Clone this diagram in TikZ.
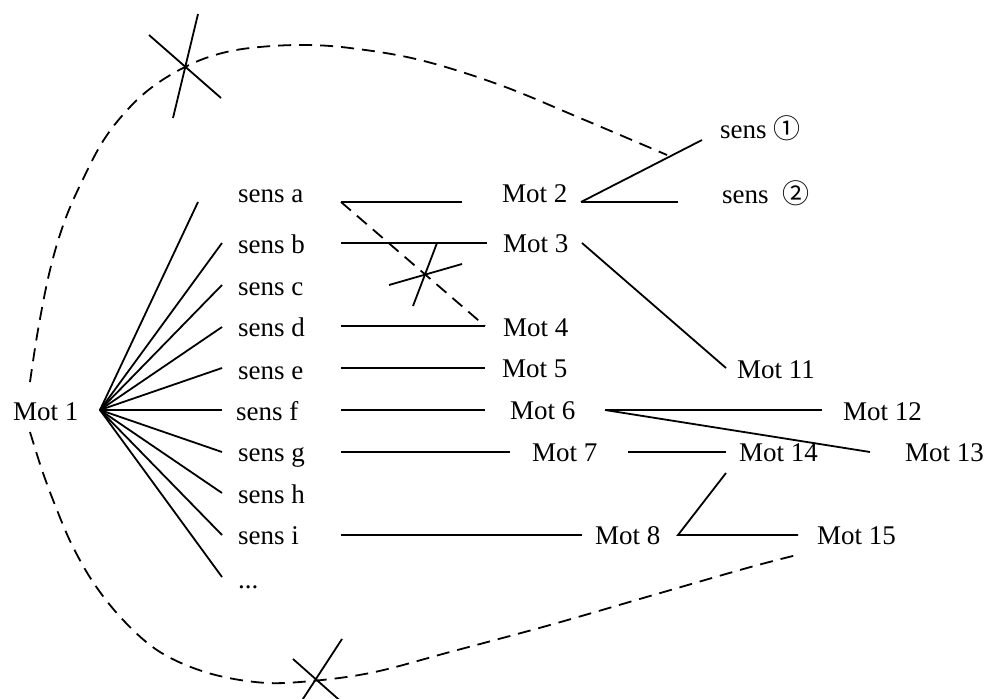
\documentclass[tikz,border=0pt]{standalone}
\usepackage{fontspec}
\setmainfont{Liberation Serif}
\newfontfamily\circfont{Noto Sans CJK SC}
\begin{document}
\begin{tikzpicture}[x=1pt,y=-1pt,
  lbl/.style={anchor=base west,inner sep=0pt,font=\fontsize{27}{30}\selectfont},
  ln/.style={line width=1.8pt},
  dsh/.style={line width=1.8pt,dash pattern=on 13pt off 8pt}]
\useasboundingbox (0,0) rectangle (986,699);
% labels
\node[lbl] (m1) at (13,420) {Mot 1};
\node[lbl] (sa) at (238,202) {sens a};
\node[lbl] (sb) at (238,253) {sens b};
\node[lbl] (sc) at (238,295) {sens c};
\node[lbl] (sd) at (238,336) {sens d};
\node[lbl] (se) at (238,379) {sens e};
\node[lbl] (sf) at (236,420) {sens f};
\node[lbl] (sg) at (238,461) {sens g};
\node[lbl] (sh) at (238,503) {sens h};
\node[lbl] (si) at (238,544) {sens i};
\node[lbl] (sdots) at (238,588) {...};
\node[lbl] (m2) at (502,202) {Mot 2};
\node[lbl] (m3) at (503,252) {Mot 3};
\node[lbl] (m4) at (503,336) {Mot 4};
\node[lbl] (m5) at (502,377) {Mot 5};
\node[lbl] (m6) at (510,419) {Mot 6};
\node[lbl] (m7) at (532,461) {Mot 7};
\node[lbl] (m8) at (595,544) {Mot 8};
\node[lbl] (m11) at (737,378) {Mot 11};
\node[lbl] (m12) at (843,420) {Mot 12};
\node[lbl] (m13) at (905,461) {Mot 13};
\node[lbl] (m14) at (739,461) {Mot 14};
\node[lbl] (m15) at (817,544) {Mot 15};
\node[lbl] (s1) at (720,138) {sens {\circfont\fontsize{27}{30}\selectfont ①}};
\node[lbl] (s2) at (722,203) {sens\ \ {\circfont\fontsize{27}{30}\selectfont ②}};
% connector points
\coordinate (hub) at (100,410);
\coordinate (fa) at (198,202);
\coordinate (fb) at (222,243);
\coordinate (fc) at (222,285);
\coordinate (fd) at (222,327);
\coordinate (fe) at (222,368);
\coordinate (ff) at (222,410);
\coordinate (fg) at (222,452);
\coordinate (fh) at (222,493);
\coordinate (fi) at (222,535);
\coordinate (fdots) at (222,577);
\foreach \e in {fa,fb,fc,fd,fe,ff,fg,fh,fi,fdots} \draw[ln] (hub) -- (\e);
% sens -> mot
\draw[ln] (341,202) coordinate (ra) -- (462,202) coordinate (la2);
\draw[dsh] (ra) -- (485,326);
\draw[ln] (341,243) -- (487,243);
\draw[ln] (341,326) -- (485,326);
\draw[ln] (341,368) -- (485,368);
\draw[ln] (341,410) -- (485,410);
\draw[ln] (341,452) -- (510,452);
\draw[ln] (341,535) -- (582,535);
% second level
\coordinate (h2) at (581,202);
\draw[ln] (h2) -- (702,140);
\draw[ln] (h2) -- (678,202);
\draw[ln] (582,243) -- (726,368);
\coordinate (h6) at (605,410);
\draw[ln] (h6) -- (822,410);
\draw[ln] (h6) -- (870,452);
\draw[ln] (628,452) -- (726,452);
\draw[ln] (726,473) -- (678,535) -- (798,535);
% small cross
\draw[ln] (437,243) -- (413,306);
\draw[ln] (389,285) -- (462,264);
% big dashed loop
\draw[dsh] plot[smooth,tension=0.6] coordinates {(30,382) (38,330) (50,270) (65,220) (85,175) (105,138) (130,107) (155,85) (185,67) (215,55) (250,48) (300,45) (350,48) (420,60) (500,85) (580,118) (667,155)};
\draw[dsh] plot[smooth,tension=0.6] coordinates {(30,432) (42,470) (55,505) (72,545) (95,585) (125,622) (160,652) (205,672) (255,682) (300,682) (370,673) (450,652) (550,625) (650,596) (747,568) (797,555)};
% crosses on loop
\draw[ln] (149,35) -- (221,98);
\draw[ln] (198,14) -- (173,118);
\draw[ln] (342,639) -- (299,705);
\draw[ln] (293,659) -- (345,705);
\end{tikzpicture}
\end{document}
